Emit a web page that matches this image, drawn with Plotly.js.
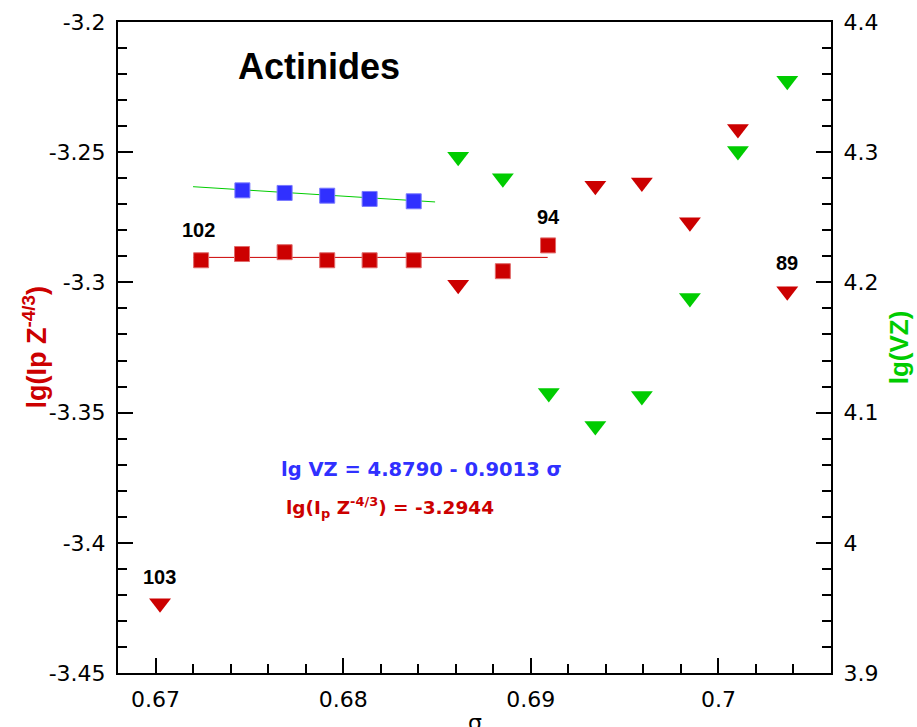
<!DOCTYPE html>
<html>
<head>
<meta charset="utf-8">
<script src="https://cdn.plot.ly/plotly-3.0.1.min.js"></script>
<style>html,body{margin:0;padding:0;background:#fff;}#chart{width:917px;height:727px;}</style>
</head>
<body>
<div id="chart"></div>
<script>
// ---- data ----
const sigmaIpSquares = [0.67243, 0.67461, 0.67688, 0.67915, 0.68141, 0.68376, 0.68851, 0.69092];
const lgIpSquares    = [-3.2915, -3.2891, -3.2884, -3.2915, -3.2915, -3.2915, -3.2957, -3.2858];

const sigmaVZSquares = [0.67463, 0.67688, 0.67915, 0.68141, 0.68376];
const lgVZSquares    = [4.2707, 4.2687, 4.2666, 4.2641, 4.2623];

const sigmaIpTriangles = [0.67024, 0.68613, 0.69344, 0.69592, 0.69848, 0.70104, 0.70367];
const lgIpTriangles    = [-3.4232, -3.3009, -3.2629, -3.2616, -3.2769, -3.2411, -3.3034];

const sigmaVZTriangles = [0.68613, 0.68851, 0.69096, 0.69344, 0.69592, 0.69848, 0.70104, 0.70367];
const lgVZTriangles    = [4.2965, 4.2800, 4.1151, 4.0898, 4.1128, 4.1880, 4.3009, 4.3549];

const fitIpX = [0.6720, 0.6909];
const fitIpY = [-3.2904, -3.2904];
const fitVZX = [0.6720, 0.6849];
const fitVZY = [4.2735, 4.2618];

const pointLabels = ['103', '102', '94', '89'];
const pointLabelX = [0.67023, 0.67227, 0.69092, 0.70367];
const pointLabelY = [-3.4130, -3.2799, -3.2748, -3.2927];

const yTickVals = [-3.45, -3.4, -3.35, -3.3, -3.25, -3.2];
const yTickText = ['-3.45', '-3.4', '-3.35', '-3.3', '-3.25', '-3.2'];
const y2TickVals = [3.9, 4.0, 4.1, 4.2, 4.3, 4.4];
const y2TickText = ['3.9', '4', '4.1', '4.2', '4.3', '4.4'];
const xTickVals = [0.67, 0.68, 0.69, 0.70];
const xTickText = ['0.67', '0.68', '0.69', '0.7'];

// ---- styles ----
const RED = '#cc0000', GREEN = '#00cc00', BLUE = '#3030ff';
const tickFont = {family: "'DejaVu Sans', sans-serif", size: 22, color: '#000'};
const boldArial = "'Liberation Sans', Arial, sans-serif";

const traces = [
  {x: fitVZX, y: fitVZY, yaxis: 'y2', mode: 'lines', line: {color: GREEN, width: 1}, hoverinfo: 'skip'},
  {x: fitIpX, y: fitIpY, yaxis: 'y', mode: 'lines', line: {color: RED, width: 1}, hoverinfo: 'skip'},
  {x: sigmaVZSquares, y: lgVZSquares, yaxis: 'y2', mode: 'markers',
   marker: {symbol: 'square', size: 15, color: BLUE, line: {color: '#7a7aff', width: 1}}},
  {x: sigmaIpSquares, y: lgIpSquares, yaxis: 'y', mode: 'markers',
   marker: {symbol: 'square', size: 15, color: RED, line: {color: '#e06a6a', width: 1}}},
  {x: sigmaIpTriangles, y: lgIpTriangles, yaxis: 'y', mode: 'markers',
   marker: {symbol: 'triangle-down', size: 19, color: RED}},
  {x: sigmaVZTriangles, y: lgVZTriangles, yaxis: 'y2', mode: 'markers',
   marker: {symbol: 'triangle-down', size: 19, color: GREEN}}
];

const annotations = pointLabels.map((t, i) => ({
  x: pointLabelX[i], y: pointLabelY[i], xref: 'x', yref: 'y', text: t, showarrow: false,
  font: {family: boldArial, size: 20, color: '#000', weight: 'bold'}
}));
annotations.push({
  x: 0.67871, y: -3.2172, xref: 'x', yref: 'y', text: 'Actinides', showarrow: false,
  font: {family: boldArial, size: 36, color: '#000', weight: 'bold'}
});
annotations.push({
  x: 0.68415, y: -3.3719, xref: 'x', yref: 'y', text: 'lg VZ = 4.8790 - 0.9013 σ', showarrow: false,
  font: {family: "'DejaVu Sans', sans-serif", size: 19.5, color: BLUE, weight: 'bold'}
});
annotations.push({
  x: 0.68249, y: -3.3864, xref: 'x', yref: 'y', text: 'lg(I<sub>p</sub> Z<sup>-4/3</sup>) = -3.2944', showarrow: false,
  font: {family: "'DejaVu Sans', sans-serif", size: 18.5, color: RED, weight: 'bold'}
});
// axis titles placed precisely (x title is partly cut by the page edge, as in the reference)
annotations.push({
  x: 0.5, y: -0.0755, xref: 'paper', yref: 'paper', xanchor: 'center', yanchor: 'middle',
  text: 'σ', showarrow: false,
  font: {family: "'DejaVu Sans', sans-serif", size: 22, color: '#000'}
});
annotations.push({
  x: -0.1177, y: 0.5, xref: 'paper', yref: 'paper', xanchor: 'center', yanchor: 'middle',
  text: 'lg(Ip Z<sup>-4/3</sup>)', textangle: -90, showarrow: false,
  font: {family: boldArial, size: 27, color: RED, weight: 'bold'}
});

const axisCommon = {
  ticks: 'inside', ticklen: 15, tickwidth: 2, tickcolor: '#000',
  showline: true, linewidth: 2, linecolor: '#000',
  showgrid: false, zeroline: false, tickfont: tickFont, fixedrange: true
};

const layout = {
  width: 917, height: 727,
  margin: {l: 118, r: 86, t: 22, b: 54, pad: 0},
  paper_bgcolor: '#fff', plot_bgcolor: '#fff',
  showlegend: false,
  xaxis: Object.assign({}, axisCommon, {
    range: [0.668, 0.706], tickmode: 'array', tickvals: xTickVals, ticktext: xTickText,
    mirror: true, ticklabelstandoff: 6,
    minor: {ticks: 'inside', ticklen: 9, tickwidth: 2, tickcolor: '#000', tickmode: 'linear', tick0: 0.67, dtick: 0.002, showgrid: false}
  }),
  yaxis: Object.assign({}, axisCommon, {
    range: [-3.45, -3.2], tickmode: 'array', tickvals: yTickVals, ticktext: yTickText,
    ticklabelstandoff: 6,
    minor: {ticks: 'inside', ticklen: 9, tickwidth: 2, tickcolor: '#000', tickmode: 'linear', tick0: -3.45, dtick: 0.01, showgrid: false}
  }),
  yaxis2: Object.assign({}, axisCommon, {
    range: [3.9, 4.4], tickmode: 'array', tickvals: y2TickVals, ticktext: y2TickText,
    overlaying: 'y', side: 'right', ticklabelstandoff: 6,
    minor: {ticks: 'inside', ticklen: 9, tickwidth: 2, tickcolor: '#000', tickmode: 'linear', tick0: 3.9, dtick: 0.02, showgrid: false},
    title: {text: 'lg(VZ)', font: {family: boldArial, size: 26, color: GREEN, weight: 'bold'}, standoff: 12}
  }),
  annotations: annotations
};

Plotly.newPlot('chart', traces, layout, {displayModeBar: false, staticPlot: true});
</script>
</body>
</html>
